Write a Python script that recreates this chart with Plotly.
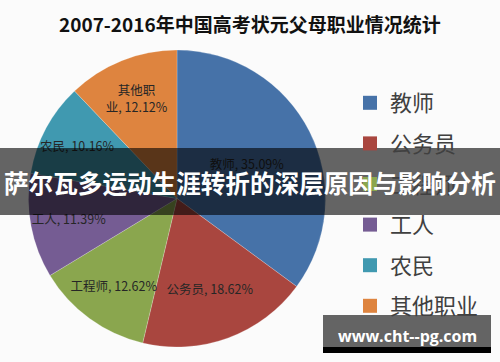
import plotly.graph_objects as go

# ---- data ----
title_text = "2007-2016年中国高考状元父母职业情况统计"
categories = ["教师", "公务员", "工程师", "工人", "农民", "其他职业"]
shares = [35.09, 18.62, 12.62, 11.39, 10.16, 12.12]
colors = ["#4672A8", "#A9463F", "#8AA64E", "#755C93", "#4099B0", "#DE843F"]
banner_text = "萨尔瓦多运动生涯转折的深层原因与影响分析"
watermark_text = "www.cht--pg.com"

W, H = 500, 362
CJK = "Noto Sans CJK SC, Microsoft YaHei, sans-serif"


def slice_text(label, value):
    # Excel wraps the long label inside its slice
    if len(label) > 3:
        label = label[:3] + "<br>" + label[3:]
    return f"{label}, {value:.2f}%"


texts = [slice_text(c, v) for c, v in zip(categories, shares)]

fig = go.Figure()

cx, cy, r = 177, 198.5, 148.5
fig.add_trace(go.Pie(
    labels=categories,
    values=shares,
    text=texts,
    textinfo="text",
    textposition="inside",
    insidetextorientation="horizontal",
    textfont=dict(family=CJK, size=12.5, color="#262626"),
    marker=dict(colors=colors, line=dict(color="rgba(255,255,255,0.35)", width=0.6)),
    sort=False,
    direction="clockwise",
    rotation=0,
    showlegend=False,
    hoverinfo="label+percent",
    domain=dict(x=[(cx - r) / W, (cx + r) / W],
                y=[1 - (cy + r) / H, 1 - (cy - r) / H]),
))

# legend entries (one group each so spacing can be set)
for cat, col in zip(categories, colors):
    fig.add_trace(go.Scatter(
        x=[None], y=[None], mode="markers", name=cat,
        legendgroup=cat,
        marker=dict(symbol="square", size=14, color=col),
        showlegend=True,
    ))

shapes = [
    dict(type="rect", xref="paper", yref="paper", x0=0, x1=1,
         y0=1 - 215 / H, y1=1 - 148 / H, fillcolor="rgba(0,0,0,0.6)",
         line=dict(width=0), layer="above"),
    dict(type="rect", xref="paper", yref="paper", x0=323 / W, x1=491 / W,
         y0=1 - 347 / H, y1=1 - 315 / H, fillcolor="rgba(0,0,0,0.6)",
         line=dict(width=0), layer="above"),
    dict(type="rect", xref="paper", yref="paper", x0=323 / W, x1=491 / W,
         y0=1 - 353 / H, y1=1 - 347 / H, fillcolor="#000000",
         line=dict(width=0), layer="above"),
]

annotations = [
    dict(text=f"<b>{title_text}</b>", x=0.5, y=1 - 23 / H, xref="paper", yref="paper",
         showarrow=False, font=dict(family=CJK, size=19, color="#111111"),
         xanchor="center", yanchor="middle"),
    dict(text=f"<b>{banner_text}</b>", x=0.5, y=1 - 182 / H, xref="paper", yref="paper",
         showarrow=False, font=dict(family=CJK, size=24.6, color="#FFFFFF"),
         xanchor="center", yanchor="middle"),
    dict(text=f"<b>{watermark_text}</b>", x=407 / W, y=1 - 336 / H, xref="paper", yref="paper",
         showarrow=False, font=dict(family="Open Sans, DejaVu Sans, sans-serif", size=16, color="#FFFFFF"),
         xanchor="center", yanchor="middle"),
]

fig.update_layout(
    width=W, height=H,
    margin=dict(l=0, r=0, t=0, b=0),
    paper_bgcolor="#FBFBFB",
    plot_bgcolor="#FBFBFB",
    xaxis=dict(visible=False),
    yaxis=dict(visible=False),
    shapes=shapes,
    annotations=annotations,
    uniformtext=dict(minsize=12.5, mode="show"),
    legend=dict(
        x=350 / W, y=1 - 82 / H, xanchor="left", yanchor="top",
        font=dict(family=CJK, size=22, color="#404040"),
        tracegroupgap=9,
        bgcolor="rgba(0,0,0,0)",
        itemclick=False, itemdoubleclick=False,
    ),
    showlegend=True,
)

fig.write_html("out.html", config={"displayModeBar": False},
               post_script="document.body.style.margin='0px';")
